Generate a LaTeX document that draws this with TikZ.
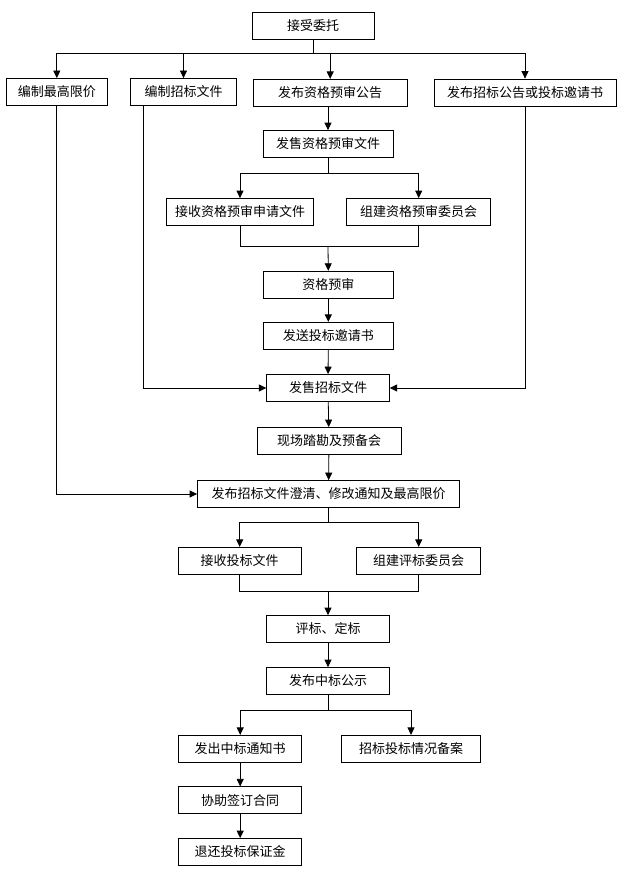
\documentclass[tikz,border=0pt]{standalone}
\usepackage{fontspec}
\newfontfamily\cjk{Noto Sans CJK SC}
\usetikzlibrary{arrows.meta,calc}
\begin{document}
\begin{tikzpicture}[x=1pt,y=-1pt,
  box/.style={draw, line width=0.8pt, inner sep=0pt, minimum height=27pt, font=\cjk\fontsize{13}{15}\selectfont},
  ln/.style={line width=0.8pt},
  arr/.style={line width=0.8pt, -{Triangle[length=7.5pt,width=7pt]}}]
\fill[white] (0,0) rectangle (620,883);
\useasboundingbox (0,0) rectangle (620,883);
% nodes
\node[box, minimum width=122pt] (n1) at (313,25.8) {接受委托};
\node[box, minimum width=100.5pt] (a1) at (56.8,92) {编制最高限价};
\node[box, minimum width=106pt] (a2) at (183.5,92) {编制招标文件};
\node[box, minimum width=154.5pt] (a3) at (330.2,92.8) {发布资格预审公告};
\node[box, minimum width=182pt] (a4) at (525,92.5) {发布招标公告或投标邀请书};
\node[box, minimum width=130pt] (b1) at (328,144) {发售资格预审文件};
\node[box, minimum width=147pt] (c1) at (240,212) {接收资格预审申请文件};
\node[box, minimum width=144pt] (c2) at (418.7,212) {组建资格预审委员会};
\node[box, minimum width=130pt] (d1) at (328.3,284.7) {资格预审};
\node[box, minimum width=130pt] (d2) at (328.3,335.8) {发送投标邀请书};
\node[box, minimum width=122.6pt] (e1) at (328,388) {发售招标文件};
\node[box, minimum width=144pt] (e2) at (329,441) {现场踏勘及预备会};
\node[box, minimum width=262pt] (e3) at (328.5,494) {发布招标文件澄清、修改通知及最高限价};
\node[box, minimum width=122.7pt] (f1) at (239.7,560.8) {接收投标文件};
\node[box, minimum width=124pt] (f2) at (418.7,560.8) {组建评标委员会};
\node[box, minimum width=122.6pt] (g1) at (328,629) {评标、定标};
\node[box, minimum width=122.6pt] (g2) at (328,681) {发布中标公示};
\node[box, minimum width=123pt] (h1) at (240.2,748.8) {发出中标通知书};
\node[box, minimum width=139.4pt] (h2) at (411,748.8) {招标投标情况备案};
\node[box, minimum width=123pt] (h3) at (240.2,800.3) {协助签订合同};
\node[box, minimum width=123pt] (h4) at (240.2,852) {退还投标保证金};
% junction coordinates
\coordinate (t0) at (313,53);
\coordinate (s1) at (328,173.3);
\coordinate (m1) at (328,246);
\coordinate (s2) at (328.5,522.7);
\coordinate (m2) at (328,591);
\coordinate (s3) at (328,710.7);
% top bus
\draw[ln] (n1.south) -- (t0);
\draw[ln] (t0) -- (a1.north |- t0) -- (a4.north |- t0);
\draw[arr] (t0) -| (a1.north);
\draw[arr] (t0) -| (a2.north);
\draw[arr] (t0) -| (a3.north);
\draw[arr] (t0) -| (a4.north);
% prequalification branch
\draw[arr] (b1.north |- a3.south) -- (b1.north);
\draw[ln] (b1.south) -- (s1);
\draw[arr] (s1) -| (c1.north);
\draw[arr] (s1) -| (c2.north);
\draw[ln] (c1.south) -- (c1.south |- m1) -- (c2.south |- m1) -- (c2.south);
\draw[arr] (m1) -- (d1.north);
\draw[arr] (d1) -- (d2);
\draw[arr] (d2) -- (e1);
% side feeds
\draw[arr] ($(a2.south west)+(12.8,0)$) |- (e1.west);
\draw[arr] (a4.south) |- (e1.east);
\draw[arr] (a1.south) |- (e3.west);
% main chain
\draw[arr] (e1) -- (e2);
\draw[arr] (e2) -- (e3);
\draw[ln] (e3.south) -- (s2);
\draw[arr] (s2) -| (f1.north);
\draw[arr] (s2) -| (f2.north);
\draw[ln] (f1.south) -- (f1.south |- m2) -- (f2.south |- m2) -- (f2.south);
\draw[arr] (m2) -- (g1.north);
\draw[arr] (g1) -- (g2);
\draw[ln] (g2.south) -- (s3);
\draw[arr] (s3) -| (h1.north);
\draw[arr] (s3) -| (h2.north);
\draw[arr] (h1) -- (h3);
\draw[arr] (h3) -- (h4);
\end{tikzpicture}
\end{document}
